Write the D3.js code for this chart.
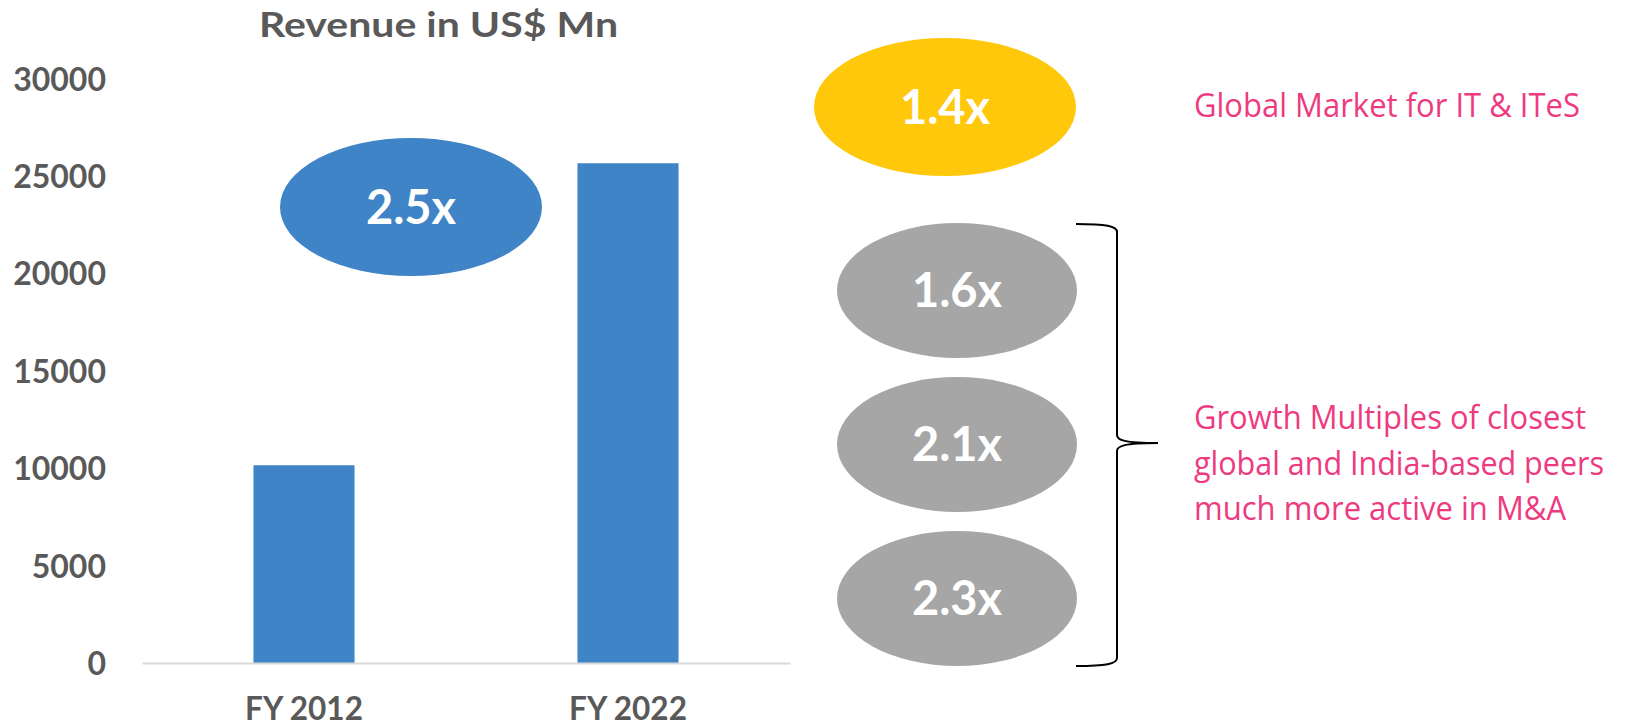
<!DOCTYPE html>
<html>
<head>
<meta charset="utf-8">
<script src="https://cdn.jsdelivr.net/npm/d3@7"></script>
<style>
  html, body { margin: 0; padding: 0; background: #ffffff; }
  svg { display: block; }
</style>
</head>
<body>
<svg id="chart" width="1647" height="726"></svg>
<script>
// Revenue by fiscal year (US$ Mn)
const categories = ["FY 2012", "FY 2022"];
const revenue = [10150, 25650];
const yTicks = [0, 5000, 10000, 15000, 20000, 25000, 30000];

// Growth multiples shown beside the bars
const companyMultiple = "2.5x";
const marketMultiple = "1.4x";
const peerMultiples = ["1.6x", "2.1x", "2.3x"];

// Captions
const titleText = "Revenue in US$ Mn";
const marketCaption = "Global Market for IT & ITeS";
const peerCaption = ["Growth Multiples of closest", "global and India-based peers", "much more active in M&A"];

const svg = d3.select("#chart");
const textGray = "#595959";
const barBlue = "#3f84c6";
const gold = "#ffc80b";
const pebble = "#a6a6a6";
const pink = "#ee3a7f";
const boldFont = "Lato, 'Open Sans', sans-serif";

// Scales
const x = d3.scaleBand().domain(categories).range([142, 790]).paddingInner(0.688).paddingOuter(0.344);
const y = d3.scaleLinear().domain([0, 30000]).range([663, 78.5]);

// Title
svg.append("text")
  .attr("x", 438.5).attr("y", 37)
  .attr("text-anchor", "middle")
  .attr("font-family", boldFont).attr("font-weight", 700)
  .attr("font-size", 35).attr("fill", textGray)
  .attr("textLength", 359).attr("lengthAdjust", "spacingAndGlyphs")
  .text(titleText);

// Y axis (labels only)
const yAxis = svg.append("g")
  .attr("transform", "translate(106,0)")
  .call(d3.axisLeft(y).tickValues(yTicks).tickFormat(d3.format("d")).tickSize(0).tickPadding(0));
yAxis.select(".domain").remove();
yAxis.selectAll("text")
  .attr("font-family", boldFont).attr("font-weight", 700)
  .attr("font-size", 32).attr("fill", textGray).attr("dy", "0.36em");

// Bars
svg.append("g").selectAll("rect")
  .data(categories)
  .join("rect")
  .attr("x", d => x(d))
  .attr("width", x.bandwidth())
  .attr("y", (d, i) => y(revenue[i]))
  .attr("height", (d, i) => y(0) - y(revenue[i]))
  .attr("fill", barBlue);

// X axis with baseline
const xAxis = svg.append("g")
  .attr("transform", `translate(0,${y(0)})`)
  .call(d3.axisBottom(x).tickSize(0).tickSizeOuter(0));
xAxis.select(".domain").attr("stroke", "#d9d9d9").attr("stroke-width", 2);
xAxis.selectAll("text")
  .attr("y", 57).attr("dy", 0)
  .attr("font-family", boldFont).attr("font-weight", 700)
  .attr("font-size", 33).attr("fill", textGray)
  .attr("textLength", 118).attr("lengthAdjust", "spacingAndGlyphs");

// Multiple bubbles
function bubble(cx, cy, rx, ry, fill, label) {
  const g = svg.append("g");
  g.append("ellipse")
    .attr("cx", cx).attr("cy", cy).attr("rx", rx).attr("ry", ry)
    .attr("fill", fill);
  g.append("text")
    .attr("x", cx).attr("y", cy)
    .attr("dy", "0.36em")
    .attr("text-anchor", "middle")
    .attr("font-family", boldFont).attr("font-weight", 700)
    .attr("font-size", 47).attr("fill", "#ffffff")
    .text(label);
}

bubble(411, 207, 131, 69, barBlue, companyMultiple);
bubble(945, 107, 131, 69, gold, marketMultiple);
peerMultiples.forEach((m, i) => bubble(957, 290.5 + i * 154, 120, 67.5, pebble, m));

// Right brace grouping the peer bubbles
svg.append("path")
  .attr("d", "M1076,224 C1106,224 1117,226 1117,232 L1117,435 C1117,440 1124,443 1158,443 " +
             "C1124,443 1117,446 1117,451 L1117,658 C1117,664 1106,666 1076,666")
  .attr("fill", "none").attr("stroke", "#000000").attr("stroke-width", 2);

// Captions
const capFont = "'Open Sans', Lato, sans-serif";
svg.append("text")
  .attr("x", 1194).attr("y", 117)
  .attr("font-family", capFont).attr("font-size", 32).attr("fill", pink)
  .attr("textLength", 386).attr("lengthAdjust", "spacingAndGlyphs")
  .text(marketCaption);

const capWidths = [392, 410, 372];
svg.append("g").selectAll("text")
  .data(peerCaption)
  .join("text")
  .attr("x", 1194)
  .attr("y", (d, i) => 429 + i * 45.5)
  .attr("font-family", capFont).attr("font-size", 32).attr("fill", pink)
  .attr("textLength", (d, i) => capWidths[i]).attr("lengthAdjust", "spacingAndGlyphs")
  .text(d => d);
</script>
</body>
</html>
